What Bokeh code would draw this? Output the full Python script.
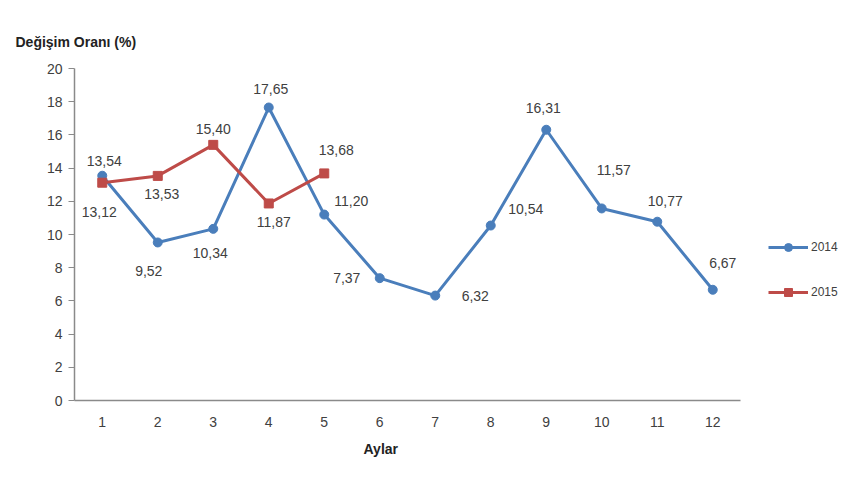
from bokeh.plotting import figure
from bokeh.models import (ColumnDataSource, FixedTicker, LabelSet, Legend,
                          LegendItem, Range1d, Title)
from bokeh.core.properties import value
from bokeh.embed import file_html
from bokeh.resources import INLINE

# Veriler
months = [1, 2, 3, 4, 5, 6, 7, 8, 9, 10, 11, 12]
rate_2014 = [13.54, 9.52, 10.34, 17.65, 11.20, 7.37, 6.32, 10.54, 16.31, 11.57, 10.77, 6.67]
months_2015 = [1, 2, 3, 4, 5]
rate_2015 = [13.12, 13.53, 15.40, 11.87, 13.68]
y_ticks = [0, 2, 4, 6, 8, 10, 12, 14, 16, 18, 20]

FONT = "Liberation Sans"
BLUE = "#4a7ebb"
RED = "#be4b48"
TEXT = "#404040"

# etiket kaydırmaları (piksel, yukarı pozitif)
off_2014 = [(2, 15), (-9, -29), (-3, -24), (2, 19), (27, 14), (-33, 0),
            (40, 0), (35, 17), (-3, 22), (12, 38), (8, 21), (10, 27)]
off_2015 = [(-3, -29), (4, -18), (0, 16), (5, -19), (12, 23)]


def fmt(v):
    return f"{v:.2f}".replace(".", ",")


src_2014 = ColumnDataSource(data=dict(
    x=months, y=rate_2014, label=[fmt(v) for v in rate_2014],
    dx=[o[0] for o in off_2014], dy=[o[1] for o in off_2014]))
src_2015 = ColumnDataSource(data=dict(
    x=months_2015, y=rate_2015, label=[fmt(v) for v in rate_2015],
    dx=[o[0] for o in off_2015], dy=[o[1] for o in off_2015]))

p = figure(frame_width=666, frame_height=332,
           min_border_left=74, min_border_right=104,
           min_border_top=68, min_border_bottom=64,
           x_range=Range1d(0.5, 12.5), y_range=Range1d(0, 20),
           output_backend="svg", toolbar_location=None,
           background_fill_color="white", border_fill_color="white")
p.outline_line_color = None
p.grid.visible = False

p.title.text = "Değişim Oranı (%)"
p.title.align = "left"
p.title.vertical_align = "top"
p.title.offset = -59
p.title.standoff = 33
p.title.text_font = FONT
p.title.text_font_size = "14px"
p.title.text_font_style = "bold"
p.title.text_color = "#222222"

# eksenler
p.xaxis.ticker = FixedTicker(ticks=months)
p.yaxis.ticker = FixedTicker(ticks=y_ticks)
for ax in (p.xaxis, p.yaxis):
    ax.axis_line_color = "#8a8a8a"
    ax.axis_line_width = 1.5
    ax.major_label_text_font = FONT
    ax.major_label_text_font_size = "14px"
    ax.major_label_text_color = TEXT
    ax.minor_tick_line_color = None
p.xaxis.major_tick_line_color = None
p.xaxis.major_label_standoff = 10
p.yaxis.major_tick_line_color = "#8a8a8a"
p.yaxis.major_tick_out = 6
p.yaxis.major_tick_in = 0
p.yaxis.major_label_standoff = 6

p.add_layout(Title(text="Aylar", align="left", offset=289, text_font=FONT,
                   text_font_size="14px", text_font_style="bold",
                   text_color="#222222", standoff=19), "below")

# seriler
l14 = p.line("x", "y", source=src_2014, color=BLUE, line_width=3)
m14 = p.scatter("x", "y", source=src_2014, marker="circle", size=9,
                color=BLUE)
l15 = p.line("x", "y", source=src_2015, color=RED, line_width=3)
m15 = p.scatter("x", "y", source=src_2015, marker="square", size=9,
                color=RED)

for src in (src_2014, src_2015):
    p.add_layout(LabelSet(x="x", y="y", text="label", source=src,
                          x_offset="dx", y_offset="dy",
                          text_align="center", text_baseline="middle",
                          text_font=value(FONT), text_font_size="14px",
                          text_color=TEXT))

legend = Legend(items=[LegendItem(label="2014", renderers=[l14, m14]),
                       LegendItem(label="2015", renderers=[l15, m15])],
                location=(28, 98), orientation="vertical",
                glyph_width=40, glyph_height=20, spacing=25,
                padding=0, margin=0, label_standoff=3,
                label_text_font=FONT, label_text_font_size="12px",
                label_text_color=TEXT, border_line_color=None,
                background_fill_alpha=0)
p.add_layout(legend, "right")

open("out.html", "w").write(file_html(p, INLINE))
